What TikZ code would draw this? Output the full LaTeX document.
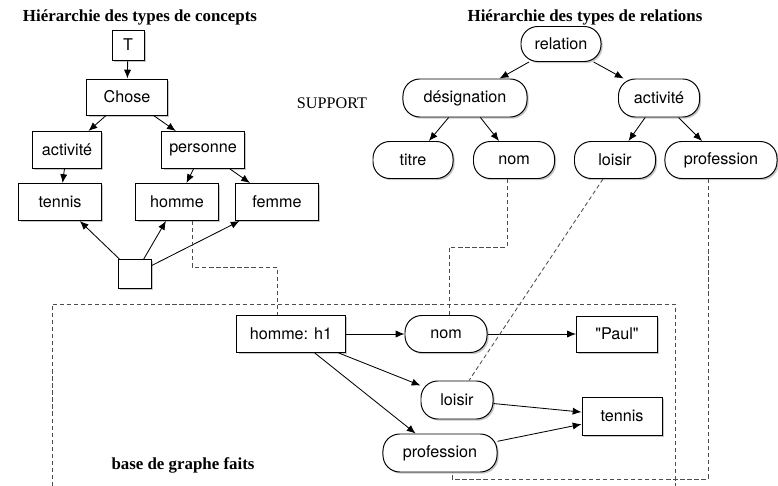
\documentclass[tikz,border=0pt]{standalone}
\usepackage{fontspec}
\setmainfont{Liberation Serif}
\setsansfont{TeX Gyre Heros}[Ligatures=TeXOff]
\usetikzlibrary{arrows.meta,positioning,calc,shadows}

\begin{document}
\begin{tikzpicture}[x=0.025cm,y=-0.025cm,
  base/.style={draw,line width=.7pt,fill=white,font=\sffamily\fontsize{11.5}{13}\selectfont,
    minimum height=0.925cm,inner sep=2pt,
    drop shadow={opacity=.45,shadow xshift=1.2pt,shadow yshift=-1.2pt}},
  cbox/.style={base},
  rbox/.style={base,rounded corners=0.42cm},
  heading/.style={font=\bfseries\fontsize{12}{14}\selectfont},
  arr/.style={-{Latex[length=2.2mm,width=1.8mm]},line width=.6pt},
  link/.style={dash pattern=on 3pt off 2pt,line width=.6pt,black!70}]
  \useasboundingbox (0,0) rectangle (778,486);
  % hierarchie des concepts
  \node[heading] (hc) at (140,17) {Hiérarchie des types de concepts};
  \node[cbox,minimum width=0.8cm,minimum height=0.75cm] (top) at (128,45) {T};
  \node[cbox,minimum width=2cm,minimum height=0.9cm] (chose) at (127,97) {Chose};
  \node[cbox,minimum width=1.725cm] (cact) at (67,150) {activité};
  \node[cbox,minimum width=2.05cm] (pers) at (203,150) {personne};
  \node[cbox,minimum width=2.05cm] (ctennis) at (60,202) {tennis};
  \node[cbox,minimum width=2.05cm] (homme) at (177,202) {homme};
  \node[cbox,minimum width=2.05cm] (femme) at (277,202) {femme};
  \node[cbox,minimum width=0.825cm,minimum height=0.725cm] (vide) at (135,274) {};
  \draw[arr] (top)--(chose);
  \draw[arr] (chose)--(cact);
  \draw[arr] (chose)--(pers);
  \draw[arr] (cact)--(ctennis);
  \draw[arr] (pers)--(homme);
  \draw[arr] (pers)--(femme);
  \draw[arr] (vide)--(ctennis);
  \draw[arr] (vide)--(homme);
  \draw[arr] (vide)--(femme);

  \node[font=\fontsize{11.5}{13}\selectfont] (support) at (332,103) {SUPPORT};

  % hierarchie des relations
  \node[heading] (hr) at (585,17) {Hiérarchie des types de relations};
  \node[rbox,minimum width=2cm,minimum height=0.875cm] (rel) at (561,44) {relation};
  \node[rbox,minimum width=3.1cm,minimum height=0.95cm] (desig) at (465,98) {désignation};
  \node[rbox,minimum width=2.025cm,minimum height=0.95cm] (ract) at (659,98) {activité};
  \node[rbox,minimum width=2cm] (rtitre) at (413,160) {titre};
  \node[rbox,minimum width=2.025cm] (rnom) at (514,160) {nom};
  \node[rbox,minimum width=2.025cm] (rloisir) at (615,160) {loisir};
  \node[rbox,minimum width=2.8cm] (rprof) at (721,160) {profession};
  \draw[arr] (rel)--(desig);
  \draw[arr] (rel)--(ract);
  \draw[arr] (desig)--(rtitre);
  \draw[arr] (desig)--(rnom);
  \draw[arr] (ract)--(rloisir);
  \draw[arr] (ract)--(rprof);

  % base de faits
  \draw[link] (52,486) |- (675,304) -- (675,486);
  \node[cbox,minimum width=2.7cm] (h1) at (291,334) {homme: h1};
  \node[rbox,minimum width=2.05cm] (fnom) at (446,334) {nom};
  \node[cbox,minimum width=2.025cm,minimum height=0.9cm] (paul) at (617,334) {"Paul"};
  \node[rbox,minimum width=1.8cm,minimum height=0.95cm] (floisir) at (457,400) {loisir};
  \node[cbox,minimum width=2cm,minimum height=0.95cm] (ftennis) at (622,416) {tennis};
  \node[rbox,minimum width=2.85cm,minimum height=0.95cm] (fprof) at (440,453) {profession};
  \node[heading] (bgf) at (183,465) {base de graphe faits};
  \draw[arr] (h1)--(fnom);
  \draw[arr] (fnom)--(paul);
  \draw[arr] (h1)--(floisir);
  \draw[arr] (h1)--(fprof);
  \draw[arr] (floisir)--(ftennis);
  \draw[arr] (fprof)--(ftennis);

  % liens support / faits
  \draw[link] ([xshift=.375cm]homme.south) -- ++(0,46) -| ([xshift=-.35cm]h1.north);
  \draw[link] ([xshift=-.175cm]rnom.south) -- ++(0,68) -| ([xshift=.075cm]fnom.north);
  \draw[link] ([xshift=-.3cm]rloisir.south) -- ([xshift=.3cm]floisir.north);
  \draw[link] ([xshift=-.325cm]rprof.south) -- ++(0,300) -| ([xshift=.3cm]fprof.south);
\end{tikzpicture}
\end{document}
